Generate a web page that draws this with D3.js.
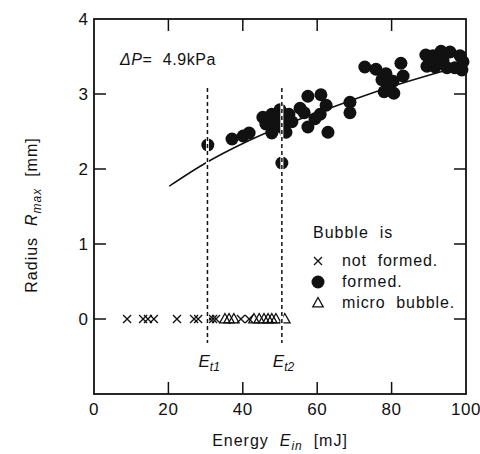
<!DOCTYPE html>
<html>
<head>
<meta charset="utf-8">
<script src="https://cdn.jsdelivr.net/npm/d3@7"></script>
<style>
  body { margin: 0; background: #fff; }
  svg text { font-family: "Liberation Sans", Arial, sans-serif; fill: #111; white-space: pre; }
</style>
</head>
<body>
<svg id="chart" width="480" height="454"></svg>
<script>
// values
const crossE = [8.9, 13.2, 14.5, 16.1, 22.3, 26.9, 28.0, 31.2, 32.0, 32.8, 39.5, 41.7];
const triE = [35.2, 36.3, 37.6, 43.0, 44.4, 45.7, 46.8, 47.8, 48.9, 51.3];
const circE = [30.6, 50.5, 37.1, 40.1, 41.7, 45.4, 47.8, 48.7, 47.8, 50.0, 51.1, 51.6, 46.8, 52.4,
  46.2, 49.2, 50.8, 53.2, 56.5,
  55.4, 57.5, 61.0, 62.4, 60.8, 59.4, 57.5, 62.9, 68.8, 68.8,
  72.8, 75.8, 77.4, 79.3, 78.0, 80.6, 82.5, 83.1, 80.4, 78.5,
  89.5, 91.7, 94.9, 91.1, 93.3, 95.7, 98.4, 98.9, 99.2, 97.0, 93.8, 89.2];
const circR = [2.32, 2.08, 2.40, 2.44, 2.48, 2.69, 2.73, 2.56, 2.48, 2.79, 2.65, 2.49, 2.60, 2.73,
  2.60, 2.68, 2.55, 2.63, 2.75,
  2.81, 2.97, 2.99, 2.85, 2.73, 2.67, 2.56, 2.49, 2.89, 2.75,
  3.36, 3.33, 3.19, 3.11, 3.03, 3.01, 3.41, 3.24, 3.17, 3.27,
  3.37, 3.36, 3.35, 3.51, 3.57, 3.56, 3.51, 3.32, 3.43, 3.35, 3.45, 3.52];
const fitE = [20.2, 30, 40, 50, 60, 70, 80, 90, 100];
const fitR = [1.77, 2.08, 2.34, 2.56, 2.75, 2.93, 3.10, 3.25, 3.39];
const thresholds = [{e: 30.5, name: "t1"}, {e: 50.5, name: "t2"}];
const xTicks = [0, 20, 40, 60, 80, 100];
const yTicks = [0, 1, 2, 3, 4];

const svg = d3.select("#chart");
const x = d3.scaleLinear().domain([0, 100]).range([94, 466]);
const y = d3.scaleLinear().domain([-1, 4]).range([394, 19]);

// frame
svg.append("rect")
  .attr("x", x(0)).attr("y", y(4))
  .attr("width", x(100) - x(0)).attr("height", y(-1) - y(4))
  .attr("fill", "none").attr("stroke", "#111").attr("stroke-width", 1.8);

// inward ticks on all four sides
const tickLen = 12;
const innerX = xTicks.filter(d => d > 0 && d < 100);
const innerY = yTicks.filter(d => d < 4);
svg.append("g").selectAll("line").data(innerX).join("line")
  .attr("x1", d => x(d)).attr("x2", d => x(d))
  .attr("y1", y(-1)).attr("y2", y(-1) - tickLen)
  .attr("stroke", "#111").attr("stroke-width", 1.5);
svg.append("g").selectAll("line").data(innerX).join("line")
  .attr("x1", d => x(d)).attr("x2", d => x(d))
  .attr("y1", y(4)).attr("y2", y(4) + tickLen)
  .attr("stroke", "#111").attr("stroke-width", 1.5);
svg.append("g").selectAll("line").data(innerY).join("line")
  .attr("x1", x(0)).attr("x2", x(0) + tickLen)
  .attr("y1", d => y(d)).attr("y2", d => y(d))
  .attr("stroke", "#111").attr("stroke-width", 1.5);
svg.append("g").selectAll("line").data(innerY).join("line")
  .attr("x1", x(100)).attr("x2", x(100) - tickLen)
  .attr("y1", d => y(d)).attr("y2", d => y(d))
  .attr("stroke", "#111").attr("stroke-width", 1.5);

// tick labels
svg.append("g").selectAll("text").data(xTicks).join("text")
  .attr("x", d => x(d)).attr("y", 415)
  .attr("text-anchor", "middle").attr("font-size", 17).attr("letter-spacing", 0.6)
  .text(d => d);
svg.append("g").selectAll("text").data(yTicks).join("text")
  .attr("x", 88).attr("y", d => y(d) + 6)
  .attr("text-anchor", "end").attr("font-size", 17)
  .text(d => d);

// axis titles
const xt = svg.append("text").attr("x", 280).attr("y", 446)
  .attr("text-anchor", "middle").attr("font-size", 16).attr("letter-spacing", 1);
xt.append("tspan").text("Energy  ");
xt.append("tspan").attr("font-style", "italic").text("E");
xt.append("tspan").attr("font-style", "italic").attr("font-size", 12).attr("dy", 4).text("in");
xt.append("tspan").attr("dy", -4).text("  [mJ]");

const yt = svg.append("text")
  .attr("transform", "translate(37,215) rotate(-90)")
  .attr("text-anchor", "middle").attr("font-size", 16).attr("letter-spacing", 1);
yt.append("tspan").text("Radius  ");
yt.append("tspan").attr("font-style", "italic").text("R");
yt.append("tspan").attr("font-style", "italic").attr("font-size", 12).attr("dy", 4).text("max");
yt.append("tspan").attr("dy", -4).text("  [mm]");

// pressure note
const note = svg.append("text").attr("x", 120).attr("y", 65).attr("font-size", 16).attr("letter-spacing", 0.6);
note.append("tspan").attr("font-style", "italic").text("ΔP");
note.append("tspan").text("=  4.9kPa");

// fitted curve
const fit = fitE.map((e, i) => ({e, r: fitR[i]}));
svg.append("path").datum(fit)
  .attr("d", d3.line().x(d => x(d.e)).y(d => y(d.r)).curve(d3.curveMonotoneX))
  .attr("fill", "none").attr("stroke", "#111").attr("stroke-width", 1.5);

// formed bubbles
svg.append("g").selectAll("circle").data(circE.map((e, i) => ({e, r: circR[i]})))
  .join("circle")
  .attr("cx", d => x(d.e)).attr("cy", d => y(d.r)).attr("r", 6.5)
  .attr("fill", "#111");

// not formed
const crossPath = s => `M${-s},${-s}L${s},${s}M${-s},${s}L${s},${-s}`;
svg.append("g").selectAll("path").data(crossE).join("path")
  .attr("transform", d => `translate(${x(d)},${y(0)})`)
  .attr("d", crossPath(4))
  .attr("stroke", "#111").attr("stroke-width", 1.3).attr("fill", "none");

// micro bubble
const triPath = s => `M0,${-s}L${s * 0.95},${s * 0.7}L${-s * 0.95},${s * 0.7}Z`;
svg.append("g").selectAll("path").data(triE).join("path")
  .attr("transform", d => `translate(${x(d)},${y(0)})`)
  .attr("d", triPath(5.5))
  .attr("stroke", "#111").attr("stroke-width", 1.3).attr("fill", "none");

// threshold lines
const th = svg.append("g").selectAll("g").data(thresholds).join("g");
th.append("line")
  .attr("x1", d => x(d.e)).attr("x2", d => x(d.e))
  .attr("y1", y(3.08)).attr("y2", y(-0.32))
  .attr("stroke", "#fff").attr("stroke-width", 3);
th.append("line")
  .attr("x1", d => x(d.e)).attr("x2", d => x(d.e))
  .attr("y1", y(3.08)).attr("y2", y(-0.32))
  .attr("stroke", "#111").attr("stroke-width", 1.5).attr("stroke-dasharray", "4,3");
const thl = th.append("text")
  .attr("x", d => x(d.e) - 9).attr("y", 367).attr("font-size", 17);
thl.append("tspan").attr("font-style", "italic").text("E");
thl.append("tspan").attr("font-style", "italic").attr("font-size", 12).attr("dy", 4).text(d => d.name);

// legend
const lg = svg.append("g").attr("transform", "translate(313,0)");
lg.append("text").attr("x", 0).attr("y", 238).attr("font-size", 16).attr("letter-spacing", 1).text("Bubble  is");
lg.append("path").attr("transform", "translate(5,261)").attr("d", crossPath(4))
  .attr("stroke", "#111").attr("stroke-width", 1.3).attr("fill", "none");
lg.append("circle").attr("cx", 5).attr("cy", 282).attr("r", 6.5).attr("fill", "#111");
lg.append("path").attr("transform", "translate(5,303)").attr("d", triPath(5.5))
  .attr("stroke", "#111").attr("stroke-width", 1.3).attr("fill", "none");
const items = ["not  formed.", "formed.", "micro  bubble."];
lg.selectAll(".item").data(items).join("text").attr("class", "item")
  .attr("x", 29).attr("y", (d, i) => 266 + i * 21)
  .attr("font-size", 16).attr("letter-spacing", 0.9)
  .text(d => d);
</script>
</body>
</html>
